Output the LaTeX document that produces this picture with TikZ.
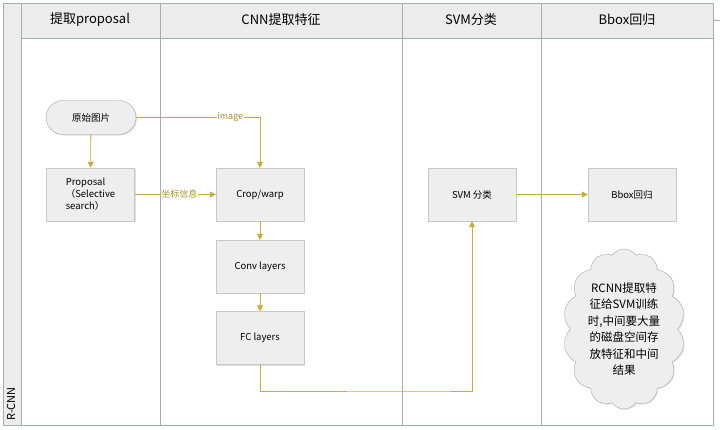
\documentclass[tikz,border=0pt]{standalone}
\usepackage{fontspec}
\setmainfont{Noto Sans CJK SC}
\usetikzlibrary{arrows.meta,shapes.symbols,shadows}
\definecolor{lane}{RGB}{160,176,176}
\definecolor{hdr}{RGB}{236,236,236}
\definecolor{boxfill}{RGB}{238,238,238}
\definecolor{boxline}{RGB}{200,200,200}
\definecolor{flow}{RGB}{201,170,58}
\begin{document}
\begin{tikzpicture}[x=1pt,y=-1pt,
  procbox/.style={draw=boxline,fill=boxfill,minimum width=88pt,minimum height=53pt,inner sep=2pt,font=\fontsize{9.5}{12}\selectfont,
    drop shadow={opacity=0.25,shadow xshift=1pt,shadow yshift=-1pt}},
  pill/.style={draw=gray!70,fill=boxfill,rounded corners=17pt,minimum width=90pt,minimum height=34pt,font=\fontsize{9.5}{12}\selectfont,
    drop shadow={opacity=0.25,shadow xshift=1pt,shadow yshift=-1pt}},
  hdrtext/.style={font=\fontsize{13}{15}\selectfont},
  flowline/.style={draw=flow,line width=0.8pt,-{Triangle[width=6pt,length=6pt]}},
  flowlabel/.style={fill=white,inner sep=0.5pt,text=flow!85!black,font=\fontsize{9}{11}\selectfont}
]
\useasboundingbox (0,0) rectangle (720,429);
% pool / lanes
\fill[hdr] (3,3) rectangle (713,38);
\fill[hdr] (3,3) rectangle (21,425);
\draw[lane,line width=0.8pt] (3,3) rectangle (713,425);
\draw[lane,line width=0.8pt] (21,3) -- (21,425);
\draw[lane,line width=0.8pt] (21,38) -- (713,38);
\foreach \xx in {160,402,541} \draw[lane,line width=0.8pt] (\xx,3) -- (\xx,425);
\draw[lane,line width=0.6pt] (713,20) -- (720,20);
\node[hdrtext] (h1) at (90,20) {提取proposal};
\node[hdrtext] (h2) at (281,20) {CNN提取特征};
\node[hdrtext] (h3) at (471,20) {SVM分类};
\node[hdrtext] (h4) at (627,20) {Bbox回归};
\node[rotate=90,anchor=west,font=\fontsize{11}{13}\selectfont] (pool) at (11,424) {R-CNN};
% nodes
\node[pill] (img) at (91,117.5) {原始图片};
\node[procbox,align=left] (prop) at (90.5,194.5) {Proposal\\（Selective\\search）};
\node[procbox] (crop) at (260,194.5) {Crop/warp};
\node[procbox] (conv) at (260,266.5) {Conv layers};
\node[procbox] (fc) at (260,338) {FC layers};
\node[procbox] (svm) at (472,194.5) {SVM 分类};
\node[procbox] (bbox) at (632,194.5) {Bbox回归};
\node[cloud,cloud puffs=14,cloud puff arc=110,cloud ignores aspect,draw=gray!70,fill=boxfill,minimum width=122pt,minimum height=160pt,inner sep=0pt,
  align=center,font=\fontsize{11.5}{16.5}\selectfont,drop shadow={opacity=0.2,shadow xshift=1pt,shadow yshift=-1pt}] (note) at (624,329)
  {RCNN提取特\\征给SVM训练\\时,中间要大量\\的磁盘空间存\\放特征和中间\\结果};
% connectors
\draw[flowline] (img) -- (prop);
\draw[flowline] (img.east) -| node[flowlabel,pos=0.38] {image} (crop.north);
\draw[flowline] (prop) -- node[flowlabel,pos=0.55] {坐标信息} (crop);
\draw[flowline] (crop) -- (conv);
\draw[flowline] (conv) -- (fc);
\draw[flowline] (fc.south) |- (430,391) -| (svm.south);
\draw[flowline] (svm) -- (bbox);
\end{tikzpicture}
\end{document}
